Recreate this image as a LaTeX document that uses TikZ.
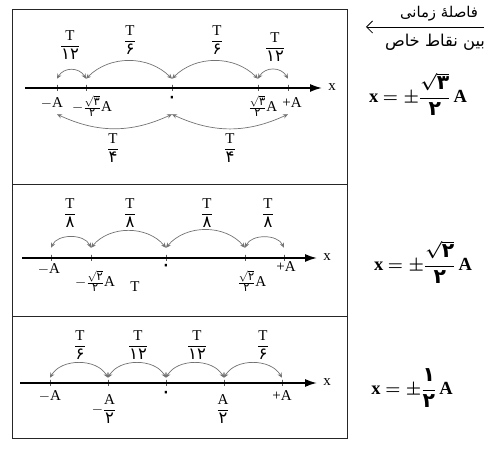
\documentclass[tikz,border=0pt]{standalone}
\usepackage{amsmath}
\usepackage{graphicx}
\usepackage{fontspec}
\setmainfont{Liberation Serif}
\newfontfamily\fa[Script=Arabic,Scale=1.1]{DejaVu Sans}
\TeXXeTstate=1
\usepackage{tikz}
\usetikzlibrary{arrows.meta,positioning,calc}

\newcommand{\pd}[1]{\text{\fa #1}}
\newcommand{\tfr}[1]{$\dfrac{\text{T}}{\pd{#1}}$}

\begin{document}
\begin{tikzpicture}[
    x=1pt, y=1pt,
    every node/.style={inner sep=0pt, font=\fontsize{15}{18}\selectfont},
    frame/.style={draw=black!85, line width=0.9pt},
    axis/.style={line width=1.7pt, -{Latex[length=12pt, width=8pt]}},
    tick/.style={rectangle, draw, line width=0.5pt, minimum width=0pt, minimum height=6pt},
    jump/.style={{Stealth[length=5pt, width=4.5pt]}-{Stealth[length=5pt, width=4.5pt]}, draw=black!55, line width=0.7pt},
    formula/.style={font=\fontsize{18.5}{22}\selectfont\bfseries\boldmath},
    note/.style={font=\fontsize{13}{16}\selectfont\fa},
    zero/.style={font=\fontsize{19}{22}\selectfont\fa}
]
\useasboundingbox (0,0) rectangle (492,449);

% frames
\draw[frame] (12,11) rectangle (347,440);
\draw[frame] (12,265) -- (347,265);
\draw[frame] (12,133) -- (347,133);

% heading
\node[note] (head1) at (439,435) {\resizebox{78pt}{!}{\beginR فاصلهٔ زمانی\endR}};
\node[note] (head2) at (435,407) {\resizebox{100pt}{!}{\beginR بین نقاط خاص\endR}};
\coordinate (hr) at (484,422);
\coordinate (hl) at (366,422);
\draw[line width=0.8pt, -{Straight Barb[length=6pt, width=12pt]}] (hr) -- (hl);

% panel 1
\coordinate (s1) at (25,361);
\coordinate (e1) at (322,361);
\draw[axis] (s1) -- (e1);
\node (x1) at (332,362) {x};
\node[tick] (p1a) at (57,361) {};
\node[tick] (p1b) at (86,361) {};
\node[tick] (p1c) at (172,361) {};
\node[tick] (p1d) at (258,361) {};
\node[tick] (p1e) at (288,361) {};
\node (l1a) at (52,346) {$-$A};
\node (l1b) at (92,343) {$-\frac{\sqrt{\pd{۳}}}{\pd{۲}}\text{A}$};
\node[zero] (l1c) at (172,349) {۰};
\node (l1d) at (263,343) {$\frac{\sqrt{\pd{۳}}}{\pd{۲}}\text{A}$};
\node (l1e) at (292,346) {+A};
\node (t1a) at (70,404) {\tfr{۱۲}};
\node (t1b) at (130,409) {\tfr{۶}};
\node (t1c) at (217,409) {\tfr{۶}};
\node (t1d) at (275,402) {\tfr{۱۲}};
\node (t1e) at (113,301) {\tfr{۴}};
\node (t1f) at (230,301) {\tfr{۴}};
\draw[jump] ([yshift=6pt]p1a.north) to[bend left=60, looseness=1.2] ([yshift=6pt]p1b.north);
\draw[jump] ([yshift=6pt]p1b.north) to[bend left=45] ([yshift=6pt]p1c.north);
\draw[jump] ([yshift=6pt]p1c.north) to[bend left=45] ([yshift=6pt]p1d.north);
\draw[jump] ([yshift=6pt]p1d.north) to[bend left=60, looseness=1.2] ([yshift=6pt]p1e.north);
\draw[jump] ([yshift=-23pt]p1a.south) to[bend right=25] ([yshift=-23pt]p1c.south);
\draw[jump] ([yshift=-23pt]p1c.south) to[bend right=25] ([yshift=-23pt]p1e.south);
\node[formula] (f1) at (418,355) {x $=\pm\dfrac{\sqrt{\pd{\bfseries ۳}}}{\pd{\bfseries ۲}}$\,A};

% panel 2
\coordinate (s2) at (22,191);
\coordinate (e2) at (317,191);
\draw[axis] (s2) -- (e2);
\node (x2) at (327,192) {x};
\node[tick] (p2a) at (51,191) {};
\node[tick] (p2b) at (91,191) {};
\node[tick] (p2c) at (166,191) {};
\node[tick] (p2d) at (245,191) {};
\node[tick] (p2e) at (284,191) {};
\node (l2a) at (49,180) {$-$A};
\node (l2b) at (95,168) {$-\frac{\sqrt{\pd{۲}}}{\pd{۲}}\text{A}$};
\node[zero] (l2c) at (166,181) {۰};
\node (l2d) at (252,168) {$\frac{\sqrt{\pd{۲}}}{\pd{۲}}\text{A}$};
\node (l2e) at (286,182) {+A};
\node (l2f) at (135,162) {T};
\node (t2a) at (70,236) {\tfr{۸}};
\node (t2b) at (130,236) {\tfr{۸}};
\node (t2c) at (207,236) {\tfr{۸}};
\node (t2d) at (268,236) {\tfr{۸}};
\draw[jump] ([yshift=7pt]p2a.north) to[bend left=65] ([yshift=7pt]p2b.north);
\draw[jump] ([yshift=7pt]p2b.north) to[bend left=50] ([yshift=7pt]p2c.north);
\draw[jump] ([yshift=7pt]p2c.north) to[bend left=50] ([yshift=7pt]p2d.north);
\draw[jump] ([yshift=7pt]p2d.north) to[bend left=65] ([yshift=7pt]p2e.north);
\node[formula] (f2) at (423,187) {x $=\pm\dfrac{\sqrt{\pd{\bfseries ۲}}}{\pd{\bfseries ۲}}$\,A};

% panel 3
\coordinate (s3) at (20,66);
\coordinate (e3) at (317,66);
\draw[axis] (s3) -- (e3);
\node (x3) at (327,67) {x};
\node[tick] (p3a) at (50,66) {};
\node[tick] (p3b) at (108,66) {};
\node[tick] (p3c) at (166,66) {};
\node[tick] (p3d) at (224,66) {};
\node[tick] (p3e) at (282,66) {};
\node (l3a) at (50,53) {$-$A};
\node (l3b) at (104,40) {$-\dfrac{\text{A}}{\pd{۲}}$};
\node[zero] (l3c) at (166,54) {۰};
\node (l3d) at (223,40) {$\dfrac{\text{A}}{\pd{۲}}$};
\node (l3e) at (282,53) {+A};
\node (t3a) at (80,104) {\tfr{۶}};
\node (t3b) at (138,104) {\tfr{۱۲}};
\node (t3c) at (197,104) {\tfr{۱۲}};
\node (t3d) at (263,104) {\tfr{۶}};
\draw[jump] ([yshift=2pt]p3a.north) to[bend left=60] ([yshift=2pt]p3b.north);
\draw[jump] ([yshift=2pt]p3b.north) to[bend left=60] ([yshift=2pt]p3c.north);
\draw[jump] ([yshift=2pt]p3c.north) to[bend left=60] ([yshift=2pt]p3d.north);
\draw[jump] ([yshift=2pt]p3d.north) to[bend left=60] ([yshift=2pt]p3e.north);
\node[formula] (f3) at (412,61) {x $=\pm\dfrac{\pd{\bfseries ۱}}{\pd{\bfseries ۲}}$\,A};

\end{tikzpicture}
\end{document}
